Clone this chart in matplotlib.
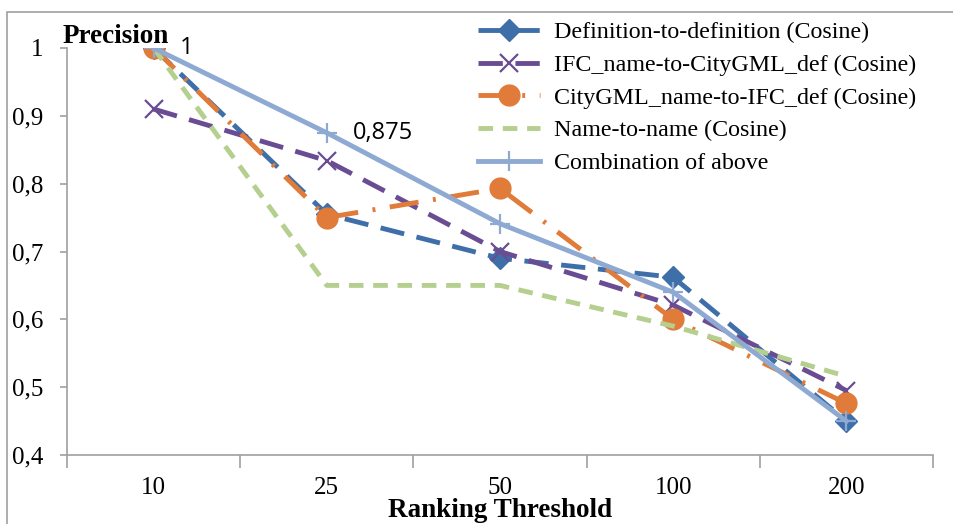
import matplotlib.pyplot as plt
from matplotlib.patches import Rectangle

thresholds = ["10", "25", "50", "100", "200"]
def_to_def = [1.0, 0.755, 0.69, 0.662, 0.45]
ifc_name_to_citygml_def = [0.91, 0.834, 0.70, 0.621, 0.495]
citygml_name_to_ifc_def = [1.0, 0.75, 0.793, 0.60, 0.476]
name_to_name = [1.0, 0.65, 0.65, 0.59, 0.516]
combination = [1.0, 0.875, 0.741, 0.64, 0.45]
y_ticks = [0.4, 0.5, 0.6, 0.7, 0.8, 0.9, 1.0]

serif = ["Liberation Serif", "DejaVu Serif"]
plt.rcParams["font.family"] = serif

fig = plt.figure(figsize=(9.54, 5.24), dpi=100)
ax = fig.add_axes([67 / 954, 69 / 524, 866 / 954, 407 / 524])

# chart frame, partly cropped at the right and bottom edges
fig.patches.append(Rectangle((7 / 954, -0.1), 1.2, 0.1 + (524 - 12) / 524,
                             transform=fig.transFigure, fill=False,
                             edgecolor="#a0a0a0", linewidth=1.2))

x = range(len(thresholds))
lw = 3.5
ax.plot(x, def_to_def, color="#3f6fa9", linewidth=lw, dashes=(5, 2.6),
        marker="D", markersize=11, label="Definition-to-definition (Cosine)")
ax.plot(x, ifc_name_to_citygml_def, color="#6a4c93", linewidth=lw, dashes=(5, 2.6),
        marker="x", markersize=13, markeredgewidth=1.6,
        label="IFC_name-to-CityGML_def (Cosine)")
ax.plot(x, citygml_name_to_ifc_def, color="#e07b39", linewidth=lw, dashes=(6, 3, 0.6, 3),
        marker="o", markersize=15, label="CityGML_name-to-IFC_def (Cosine)")
ax.plot(x, name_to_name, color="#b5cf8f", linewidth=lw, dashes=(3, 2),
        label="Name-to-name (Cosine)")
ax.plot(x, combination, color="#8eaad2", linewidth=lw, marker="+",
        markersize=15, markeredgewidth=1.6, label="Combination of above")

# value labels on the combined series
for i in (0, 1):
    ax.annotate(f"{combination[i]:g}".replace(".", ","), (i, combination[i]),
                xytext=(19, 0), textcoords="offset points", va="center",
                fontsize=17, family=["Open Sans", "DejaVu Sans"])

ax.set_xlim(-0.5, len(thresholds) - 0.5)
ax.set_ylim(0.4, 1.0)
ax.set_xticks(list(x))
ax.set_xticklabels(thresholds, fontsize=18)
ax.set_xticks([i - 0.5 for i in range(len(thresholds) + 1)], minor=True)
ax.tick_params(axis="x", which="major", length=0, pad=16)
ax.tick_params(axis="x", which="minor", length=9, width=1.2, color="#a0a0a0", direction="out")
ax.set_yticks(y_ticks)
ax.set_yticklabels([f"{v:g}".replace(".", ",") for v in y_ticks], fontsize=18)
ax.tick_params(axis="y", length=5, width=1.2, color="#a0a0a0", pad=12)

for side in ("top", "right"):
    ax.spines[side].set_visible(False)
for side in ("left", "bottom"):
    ax.spines[side].set_color("#a0a0a0")
    ax.spines[side].set_linewidth(1.2)

fig.text(500 / 954, 7 / 524, "Ranking Threshold", fontsize=19.5, fontweight="bold",
         ha="center", va="baseline")
fig.text(63 / 954, 1 - 43 / 524, "Precision", fontsize=19.5, fontweight="bold", va="baseline")

ax.legend(loc="upper left", bbox_to_anchor=(468 / 954, 1 - 12 / 524),
          bbox_transform=fig.transFigure, frameon=False, fontsize=17.3,
          handlelength=2.6, handletextpad=0.6, labelspacing=0.45, borderaxespad=0)

fig.savefig("out.png", dpi=100)
